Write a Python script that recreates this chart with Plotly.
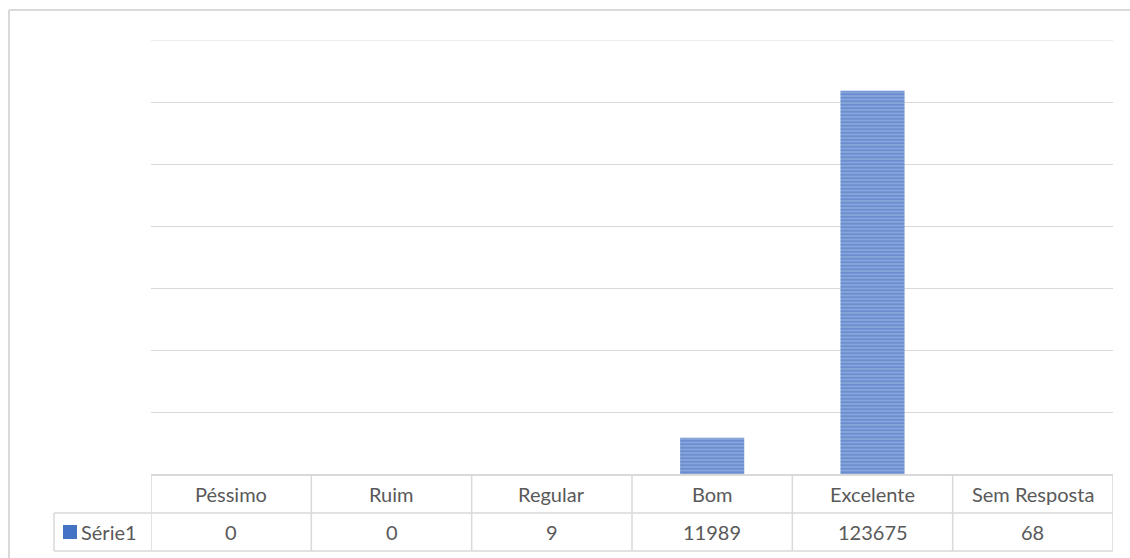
import plotly.graph_objects as go

categories = ["Péssimo", "Ruim", "Regular", "Bom", "Excelente", "Sem Resposta"]
values = [0, 0, 9, 11989, 123675, 68]
series_name = "Série1"
y_max = 140000
y_step = 20000

FONT = "Lato, Open Sans, sans-serif"
TXT = "#595959"
GRID = "#d9d9d9"

W, H = 1130, 558
ML, MR, MT, MB = 151, 17, 40, 83
ROW = 38  # table row height, px
FS = 20

fig = go.Figure(go.Bar(
    x=categories, y=values, name=series_name, width=0.4,
    marker=dict(color="#8eaadc", line=dict(width=0),
                pattern=dict(shape="-", fgcolor="#4472c4", size=3.5, solidity=0.6)),
    showlegend=False,
))

shapes = []
annotations = []
n = len(categories)
PW = W - ML - MR
# table horizontal lines
for yoff, x0px in [(0, 0), (-ROW, -97), (-2 * ROW, -97)]:
    shapes.append(dict(type="line", xref="paper", xsizemode="pixel", xanchor=0,
                       x0=x0px, x1=PW, yref="paper", ysizemode="pixel", yanchor=0,
                       y0=yoff, y1=yoff, line=dict(color=GRID, width=2 if yoff == 0 else 1.5)))
# table vertical lines at category boundaries
for i in range(n + 1):
    shapes.append(dict(type="line", xref="x", x0=i - 0.5, x1=i - 0.5,
                       yref="paper", ysizemode="pixel", yanchor=0, y0=0, y1=-2 * ROW,
                       line=dict(color=GRID, width=1.5)))
# legend cell left edge
shapes.append(dict(type="line", xref="paper", xsizemode="pixel", xanchor=0, x0=-97, x1=-97,
                   yref="paper", ysizemode="pixel", yanchor=0, y0=-ROW, y1=-2 * ROW,
                   line=dict(color=GRID, width=1.5)))
# legend swatch
shapes.append(dict(type="rect", xref="paper", xsizemode="pixel", xanchor=0, x0=-88, x1=-74,
                   yref="paper", ysizemode="pixel", yanchor=0, y0=-ROW - 12, y1=-ROW - 26,
                   fillcolor="#4472c4", line=dict(width=0)))
# top gridline (at range edge)
shapes.append(dict(type="line", xref="paper", x0=0, x1=1, yref="y", y0=y_max, y1=y_max,
                   line=dict(color=GRID, width=1)))
# outer chart border (left and top)
shapes.append(dict(type="line", xref="paper", xsizemode="pixel", xanchor=0, x0=-142, x1=-142,
                   yref="paper", ysizemode="pixel", yanchor=1, y0=30, y1=-600,
                   line=dict(color=GRID, width=2)))
shapes.append(dict(type="line", xref="paper", xsizemode="pixel", xanchor=0, x0=-142, x1=1100,
                   yref="paper", ysizemode="pixel", yanchor=1, y0=30, y1=30,
                   line=dict(color=GRID, width=2)))

for c, v in zip(categories, values):
    annotations.append(dict(x=c, xref="x", y=0, yref="paper", yshift=-ROW / 2,
                            text=c, showarrow=False, yanchor="middle",
                            font=dict(family=FONT, size=FS, color=TXT)))
    annotations.append(dict(x=c, xref="x", y=0, yref="paper", yshift=-1.5 * ROW,
                            text=str(v), showarrow=False, yanchor="middle",
                            font=dict(family=FONT, size=FS, color=TXT)))
annotations.append(dict(x=0, xref="paper", xshift=-72, xanchor="left", y=0, yref="paper",
                        yshift=-1.5 * ROW, yanchor="middle", text=series_name, showarrow=False,
                        font=dict(family=FONT, size=FS, color=TXT)))

fig.update_layout(
    width=W, height=H,
    margin=dict(l=ML, r=MR, t=MT, b=MB),
    paper_bgcolor="white", plot_bgcolor="white",
    xaxis=dict(type="category", range=[-0.5, n - 0.5], showticklabels=False,
               showgrid=False, zeroline=False, showline=False, ticks=""),
    yaxis=dict(range=[0, y_max], dtick=y_step, showticklabels=False,
               showgrid=True, gridcolor=GRID, gridwidth=1, zeroline=False),
    shapes=shapes, annotations=annotations,
)

fig.write_html("out.html", config={"displayModeBar": False},
               post_script="document.body.style.margin='0';document.body.style.overflow='hidden';")
